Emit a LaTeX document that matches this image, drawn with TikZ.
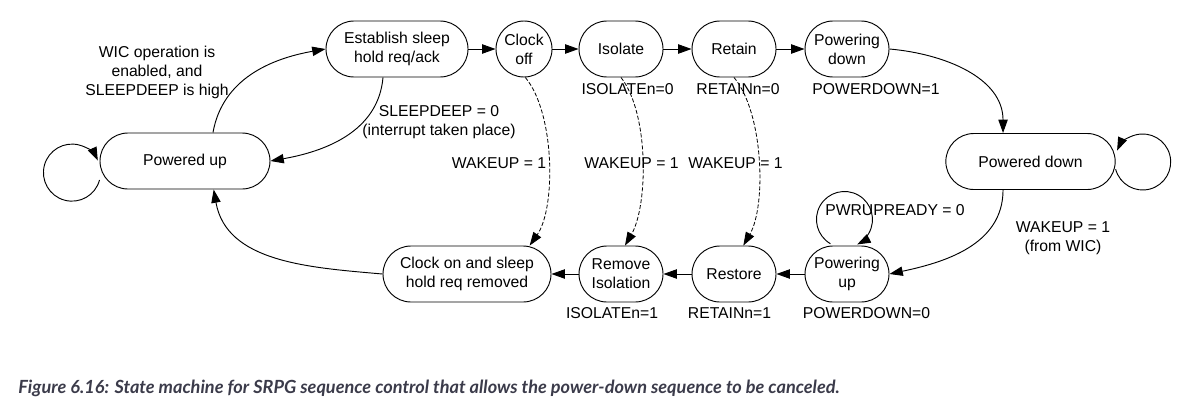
\documentclass[tikz,border=0pt]{standalone}
\usepackage{fontspec}
\setmainfont{Liberation Sans}
\newfontfamily\capfont{Lato}
\usepackage{xcolor}
\usetikzlibrary{arrows.meta}
\definecolor{capgray}{HTML}{3B3B4A}

\begin{document}
\begin{tikzpicture}[x=0.75pt, y=0.75pt, line width=0.7pt,
    >={Triangle[length=10pt,width=7pt]},
    state/.style={draw, rounded corners=21pt, minimum height=42pt, inner sep=0pt,
        align=center, font=\fontsize{11.8}{14.2}\selectfont},
    stcircle/.style={draw, circle, minimum size=42pt, inner sep=0pt,
        align=center, font=\fontsize{11.8}{14.2}\selectfont},
    lbl/.style={align=center, inner sep=0pt, font=\fontsize{11.8}{14.2}\selectfont},
    wake/.style={->, dashed, line width=0.6pt, dash pattern=on 3pt off 1.5pt}]
    \useasboundingbox (0,0) rectangle (1188,-411);

    % top row
    \node[state, minimum width=106.5pt] (estab) at (397,-49) {Establish sleep\\hold req/ack};
    \node[stcircle] (clkoff) at (524,-49) {Clock\\off};
    \node[state, minimum width=63pt] (isolate) at (621,-49) {Isolate};
    \node[state, minimum width=63pt] (retain) at (734,-49) {Retain};
    \node[state, minimum width=63pt] (pwrdn) at (847,-49) {Powering\\down};

    % end states
    \node[state, minimum width=127.5pt] (pwrup) at (185,-161) {Powered up};
    \node[state, minimum width=127pt] (pwrdnst) at (1030.5,-161.5) {Powered down};

    % bottom row
    \node[state, minimum width=63pt] (pwrupg) at (847,-274) {Powering\\up};
    \node[state, minimum width=63pt] (restore) at (734,-274) {Restore};
    \node[state, minimum width=63pt] (remiso) at (621,-274) {Remove\\Isolation};
    \node[state, minimum width=126pt] (clkon) at (467,-274) {Clock on and sleep\\hold req removed};

    % power-down sequence
    \draw[->] (estab) -- (clkoff);
    \draw[->] (clkoff) -- (isolate);
    \draw[->] (isolate) -- (retain);
    \draw[->] (retain) -- (pwrdn);
    \draw[->] (pwrdn.east) to[out=-5, in=90] ([xshift=-20.6pt]pwrdnst.north);

    % power-up sequence
    \draw[->] ([xshift=-20.6pt]pwrdnst.south) to[out=-90, in=12] (pwrupg.east);
    \draw[->] (pwrupg) -- (restore);
    \draw[->] (restore) -- (remiso);
    \draw[->] (remiso) -- (clkon);
    \draw[->] (clkon.west) to[out=175, in=-80] ([xshift=21.5pt]pwrup.south);

    % sleep entry and cancel
    \draw[->] ([xshift=21pt]pwrup.north) to[out=80, in=190] (estab.west);
    \draw[->] ([xshift=-10.5pt]estab.south) to[out=-95, in=10] (pwrup.east);

    % wakeup during power-down
    \draw[wake] ([xshift=1pt]clkoff.south) to[out=-50, in=55, looseness=0.7] ([xshift=47pt]clkon.north);
    \draw[wake] (isolate.south) to[out=-52, in=60, looseness=0.7] ([xshift=3pt]remiso.north);
    \draw[wake] (retain.south) to[out=-50, in=60, looseness=0.7] ([xshift=7pt]restore.north);

    % self loops
    \draw[->] ([yshift=-14.25pt]pwrup.west) arc[start angle=-15, end angle=-335, radius=21.4pt];
    \draw[->] ([yshift=-5.8pt]pwrdnst.east) arc[start angle=195, end angle=516, radius=21pt];
    \draw[->] ([xshift=-12.4pt,yshift=1.35pt]pwrupg.north) arc[start angle=-120, end angle=-423, radius=21pt];

    % conditions
    \node[lbl] (wictxt) at (157,-72) {WIC operation is\\enabled, and\\SLEEPDEEP is high};
    \node[lbl] (sdtxt) at (439,-122) {SLEEPDEEP = 0\\(interrupt taken place)};
    \node[lbl] (wkone) at (499,-163) {WAKEUP = 1};
    \node[lbl] (wktwo) at (631.5,-163) {WAKEUP = 1};
    \node[lbl] (wkthree) at (735.5,-163) {WAKEUP = 1};
    \node[lbl] (prdy) at (895,-210) {PWRUPREADY = 0};
    \node[lbl] (wkwic) at (1063,-238) {WAKEUP = 1\\(from WIC)};

    % signal values
    \node[lbl] (isolo) at (627.5,-89) {ISOLATEn=0};
    \node[lbl] (retlo) at (738,-89) {RETAINn=0};
    \node[lbl] (pdone) at (876,-89) {POWERDOWN=1};
    \node[lbl] (isohi) at (612,-313) {ISOLATEn=1};
    \node[lbl] (rethi) at (729.5,-313) {RETAINn=1};
    \node[lbl] (pdzero) at (866.5,-313) {POWERDOWN=0};

    % caption
    \node[anchor=west, inner sep=0pt, text=capgray,
        font=\capfont\bfseries\itshape\fontsize{13.6}{16}\selectfont] (figcap) at (18,-388)
        {Figure 6.16: State machine for SRPG sequence control that allows the power-down sequence to be canceled.};
\end{tikzpicture}
\end{document}
